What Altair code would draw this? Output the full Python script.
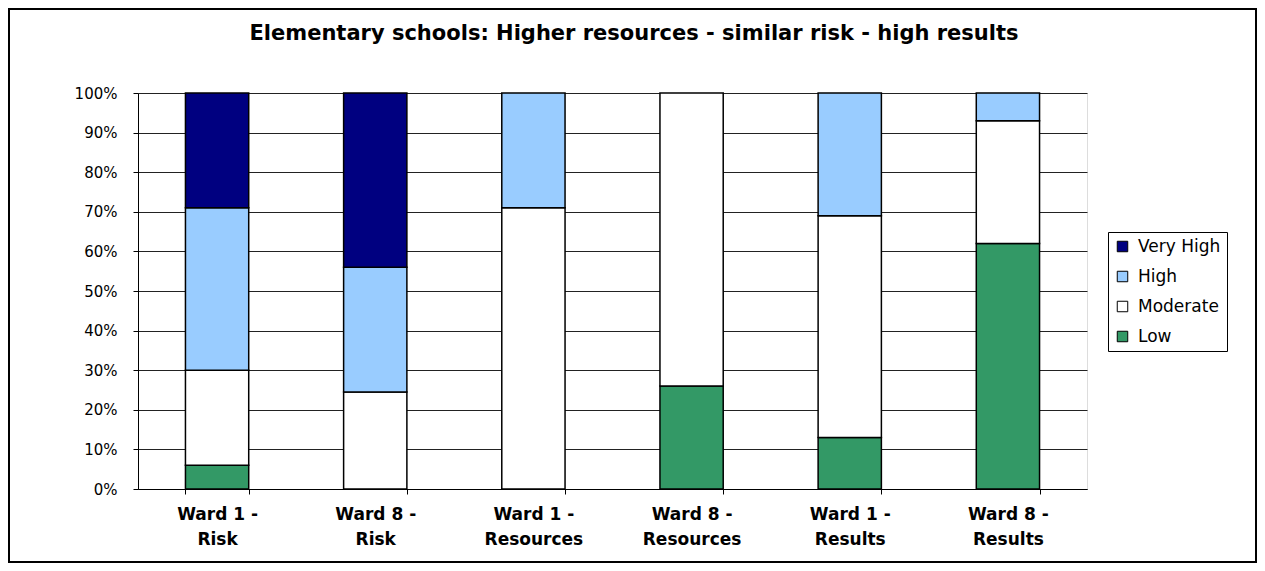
import altair as alt
import pandas as pd

title_text = "Elementary schools: Higher resources - similar risk - high results"
categories = ["Ward 1 - Risk", "Ward 8 - Risk", "Ward 1 - Resources",
              "Ward 8 - Resources", "Ward 1 - Results", "Ward 8 - Results"]
levels = ["Very High", "High", "Moderate", "Low"]
low = [6, 0, 0, 26, 13, 62]
moderate = [24, 24.5, 71, 74, 56, 31]
high = [41, 31.5, 29, 0, 31, 7]
very_high = [29, 44, 0, 0, 0, 0]
colors = ["#000080", "#99CCFF", "#FFFFFF", "#339966"]

series = {"Low": low, "Moderate": moderate, "High": high, "Very High": very_high}
stack_rank = {"Low": 0, "Moderate": 1, "High": 2, "Very High": 3}
rows = []
for lvl, vals in series.items():
    for cat, v in zip(categories, vals):
        if v > 0:
            rows.append({"cat": cat, "level": lvl, "value": v / 100.0, "rank": stack_rank[lvl]})
df = pd.DataFrame(rows)

FONT = "DejaVu Sans"
W, H = 949, 396

bars = alt.Chart(df).mark_bar(stroke="black", strokeWidth=1.5).encode(
    x=alt.X("cat:N", sort=categories,
            scale=alt.Scale(paddingInner=0.6, paddingOuter=0.3),
            axis=alt.Axis(title=None, labelAngle=0, tickBand="extent", grid=False,
                          labelExpr="datum.label == '' ? '' : [split(datum.label, ' - ')[0] + ' -', split(datum.label, ' - ')[1]]",
                          labelFont=FONT, labelFontSize=17, labelFontWeight="bold",
                          labelColor="black", labelLineHeight=25, labelPadding=12,
                          tickSize=5, tickColor="black", domainColor="black",
                          labelBaseline="top")),
    y=alt.Y("value:Q", stack=True, scale=alt.Scale(domain=[0, 1]),
            axis=alt.Axis(title=None, format="%", values=[i / 10 for i in range(11)],
                          labelFont=FONT, labelFontSize=15, labelColor="black",
                          labelPadding=16, tickSize=5, tickColor="black",
                          domainColor="black", gridColor="#222222", gridWidth=1)),
    color=alt.Color("level:N", scale=alt.Scale(domain=levels, range=colors),
                    legend=alt.Legend(title=None, orient="none", legendX=970, legendY=139,
                                      symbolType="square", symbolSize=110,
                                      symbolStrokeColor="black", symbolStrokeWidth=1,
                                      labelFont=FONT, labelFontSize=17, labelColor="black",
                                      rowPadding=12, padding=6, strokeColor="black",
                                      fillColor="white", labelOffset=7)),
    order=alt.Order("rank:Q", sort="ascending"),
)

title = alt.Chart(pd.DataFrame({"t": [title_text]})).mark_text(
    font=FONT, fontSize=21, fontWeight="bold", color="black", align="center", baseline="middle"
).encode(text="t:N", x=alt.value(496), y=alt.value(-59))

frame = alt.Chart(pd.DataFrame({"a": [0]})).mark_rect(
    fill=None, stroke="black", strokeWidth=2
).encode(x=alt.value(-129), x2=alt.value(1118), y=alt.value(-84), y2=alt.value(469))

chart = alt.layer(bars, title, frame).properties(
    width=W, height=H,
    padding={"left": 130, "top": 85, "right": 170, "bottom": 74},
    autosize=alt.AutoSizeParams(type="none"),
).configure_view(stroke="#808080", strokeWidth=1).configure(background="white")

chart.save("out.html", embed_options={"renderer": "svg", "actions": False})
